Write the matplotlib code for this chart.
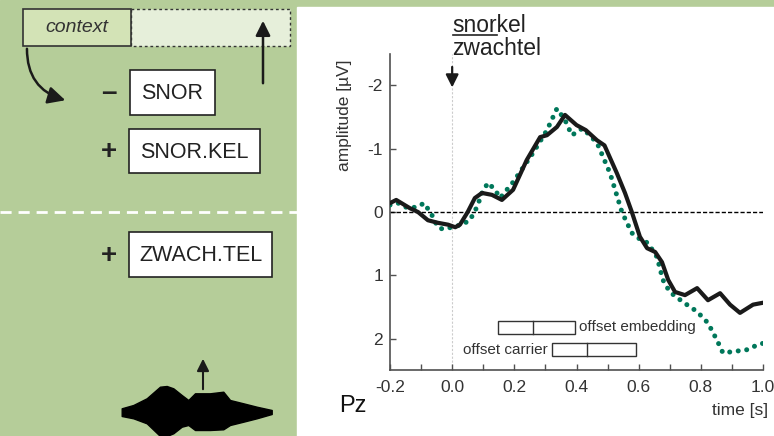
import matplotlib.pyplot as plt
from matplotlib.patches import Rectangle, FancyArrowPatch

plt.rcParams['font.family'] = ['Liberation Sans', 'DejaVu Sans']

# ERP data (time in s, amplitude in uV)
t_black = [-0.2, -0.18, -0.136, -0.11, -0.078, -0.046, -0.013, 0.01, 0.025, 0.05,
           0.073, 0.096, 0.128, 0.16, 0.196, 0.24, 0.283, 0.305, 0.337, 0.363,
           0.40, 0.43, 0.466, 0.49, 0.53, 0.556, 0.578, 0.604, 0.627, 0.653,
           0.675, 0.695, 0.717, 0.749, 0.788, 0.823, 0.862, 0.894, 0.926, 0.968, 1.0]
v_black = [-0.14, -0.19, -0.06, 0.0, 0.13, 0.17, 0.20, 0.24, 0.20, 0.0,
           -0.22, -0.30, -0.27, -0.19, -0.35, -0.82, -1.18, -1.21, -1.34, -1.53,
           -1.37, -1.29, -1.13, -1.05, -0.61, -0.30, 0.0, 0.39, 0.57, 0.63,
           0.79, 1.07, 1.26, 1.31, 1.20, 1.39, 1.28, 1.46, 1.59, 1.46, 1.43]

t_green = [-0.2, -0.174, -0.142, -0.113, -0.09, -0.065, -0.046, -0.03, 0.0, 0.03,
           0.057, 0.08, 0.096, 0.115, 0.138, 0.154, 0.196, 0.26, 0.305, 0.337,
           0.363, 0.385, 0.42, 0.466, 0.508, 0.546, 0.578, 0.598, 0.63, 0.659,
           0.678, 0.70, 0.743, 0.788, 0.823, 0.852, 0.871, 0.904, 0.949, 0.984, 1.0]
v_green = [-0.11, -0.14, -0.06, -0.08, -0.14, 0.05, 0.24, 0.27, 0.24, 0.20,
           0.13, -0.08, -0.30, -0.46, -0.35, -0.22, -0.47, -0.93, -1.29, -1.63,
           -1.45, -1.21, -1.32, -1.09, -0.61, 0.0, 0.33, 0.41, 0.49, 0.71,
           1.07, 1.26, 1.42, 1.57, 1.75, 2.02, 2.22, 2.20, 2.17, 2.09, 2.07]

# offset boxplots: (min, median, max) in s
emb_box = [0.147, 0.26, 0.395]
car_box = [0.321, 0.434, 0.591]

# waveform envelope (left panel, pixel coordinates)
wave_x = [121.7, 133.3, 146.7, 160, 166.7, 173.3, 181.7, 188.3, 195, 210, 223.3, 230, 243.3, 256.7, 271.7]
wave_top = [408.3, 405, 398.3, 386.7, 386, 388.3, 395, 400, 393.3, 393.3, 391.7, 400, 403.3, 406.7, 410]
wave_bot = [416, 418.3, 423.3, 436, 436, 433.3, 426.7, 425, 430, 430, 429.3, 425, 421.7, 418.3, 414]

W, H = 774, 436
green = '#b5cd99'
axc = '#505050'
txtc = '#333333'

fig = plt.figure(figsize=(W / 100, H / 100), dpi=100)
bg = fig.add_axes([0, 0, 1, 1])
bg.set_xlim(0, W)
bg.set_ylim(H, 0)
bg.axis('off')

# backgrounds
bg.add_patch(Rectangle((0, 0), W, H, color=green, zorder=0))
bg.add_patch(Rectangle((297, 7), W - 297, H - 7, color='white', zorder=1))

# context box + dotted extension
bg.add_patch(Rectangle((131, 9), 159, 37, facecolor='#e6efda', edgecolor='#333333',
                       linestyle=(0, (2, 2)), lw=1, zorder=2))
bg.add_patch(Rectangle((23, 9), 108, 37, facecolor='#d3e3b6', edgecolor='#333333', lw=1.2, zorder=3))
bg.text(77, 28, 'context', style='italic', fontsize=14, color=txtc, ha='center', va='center', zorder=4)

# arrows in left panel
bg.add_patch(FancyArrowPatch((263, 86), (263, 18), arrowstyle='-|>', mutation_scale=22,
                             lw=1.8, color='#1a1a1a', zorder=4))
bg.add_patch(FancyArrowPatch((27, 46), (68, 101), arrowstyle='-|>', mutation_scale=26,
                             connectionstyle='arc3,rad=0.4', lw=1.8, color='#1a1a1a', zorder=4))
bg.add_patch(FancyArrowPatch((203, 392), (203, 356), arrowstyle='-|>', mutation_scale=18,
                             lw=1.5, color='#1a1a1a', zorder=4))

# word boxes
words = [('SNOR', 130, 70, 85, 45, '–'), ('SNOR.KEL', 129, 129, 131, 44, '+'),
         ('ZWACH.TEL', 129, 232, 143, 45, '+')]
for label, x0, y0, w, h, sign in words:
    bg.add_patch(Rectangle((x0, y0), w, h, facecolor='white', edgecolor='#222222', lw=1.2, zorder=3))
    bg.text(x0 + w / 2, y0 + h / 2 + 1, label, fontsize=15.5, color='#222222',
            ha='center', va='center', zorder=4)
    bg.text(109, y0 + h / 2 + 1, sign, fontsize=20, fontweight='bold', color='#222222',
            ha='center', va='center', zorder=4)

# dashed separator
bg.plot([0, 297], [212, 212], color='white', lw=2, linestyle=(0, (4, 2.5)), zorder=2)

# waveform
bg.fill_between(wave_x, wave_top, wave_bot, color='black', lw=1, zorder=3)

# word labels above the plot
x_w = 452
bg.text(x_w, 31.5, 'snorkel', fontsize=16.5, color='#222222', va='baseline', zorder=4)
bg.text(x_w, 55, 'zwachtel', fontsize=16.5, color='#222222', va='baseline', zorder=4)
r = fig.canvas.get_renderer()
tmp = bg.text(x_w, 31.5, 'snor', fontsize=16.5, va='baseline')
ub = tmp.get_window_extent(r)
tmp.remove()
bg.plot([x_w + 1, x_w + ub.width], [35, 35], color='#222222', lw=1.2, zorder=4)

bg.text(353, 406, 'Pz', fontsize=17, color='#111111', ha='center', va='center', zorder=4)
bg.text(768, 410, 'time [s]', fontsize=12.5, color=txtc, ha='right', va='center', zorder=4)
bg.text(345, 115, 'amplitude [µV]', fontsize=12.5, color=txtc, rotation=90,
        ha='center', va='center', zorder=4)

# ERP axes
ax = fig.add_axes([390 / W, (H - 370) / H, 373 / W, 316 / H])
ax.patch.set_alpha(0)
ax.set_xlim(-0.2, 1.0)
ax.set_ylim(2.49, -2.49)
for s in ['top', 'right']:
    ax.spines[s].set_visible(False)
for s in ['left', 'bottom']:
    ax.spines[s].set_color(axc)
    ax.spines[s].set_linewidth(1.2)

ax.set_xticks([-0.2, 0.0, 0.2, 0.4, 0.6, 0.8, 1.0])
ax.set_xticklabels(['-0.2', '0.0', '0.2', '0.4', '0.6', '0.8', '1.0'])
ax.set_xticks([-0.1, 0.1, 0.3, 0.5, 0.7, 0.9], minor=True)
ax.set_yticks([-2, -1, 0, 1, 2])
ax.set_yticklabels(['-2', '-1', '0', '1', '2'])
ax.tick_params(which='both', direction='in', length=4, width=1, color=axc,
               labelcolor=txtc, labelsize=12.5)
ax.tick_params(axis='x', pad=7)
ax.tick_params(axis='y', pad=5)

ax.axhline(0, color='black', lw=1, linestyle=(0, (3, 1.5)), zorder=2)
ax.axvline(0, color='#cccccc', lw=0.8, linestyle=(0, (2, 1.5)), zorder=1)
ax.annotate('', xy=(0, -1.92), xytext=(0, -2.33),
            arrowprops=dict(arrowstyle='-|>', color='#1a1a1a', lw=1.6, mutation_scale=19))

ax.plot(t_green, v_green, color='#00775a', lw=3.6, linestyle=(0, (0.01, 1.7)),
        dash_capstyle='round', zorder=3)
ax.plot(t_black, v_black, color='#1a1a1a', lw=3, solid_joinstyle='round', zorder=4)

# offset boxes
for (lo, med, hi), y0, y1, lab in [(emb_box, 1.72, 1.92, 'offset embedding'),
                                   (car_box, 2.07, 2.27, 'offset carrier')]:
    ax.add_patch(Rectangle((lo, y0), hi - lo, y1 - y0, facecolor='white',
                           edgecolor='#333333', lw=1, zorder=5))
    ax.plot([med, med], [y0, y1], color='#333333', lw=1, zorder=6)
    if lab == 'offset embedding':
        ax.text(hi + 0.012, (y0 + y1) / 2, lab, fontsize=11, color=txtc, ha='left', va='center')
    else:
        ax.text(lo - 0.012, (y0 + y1) / 2, lab, fontsize=11, color=txtc, ha='right', va='center')

fig.savefig('out.png', dpi=100)
